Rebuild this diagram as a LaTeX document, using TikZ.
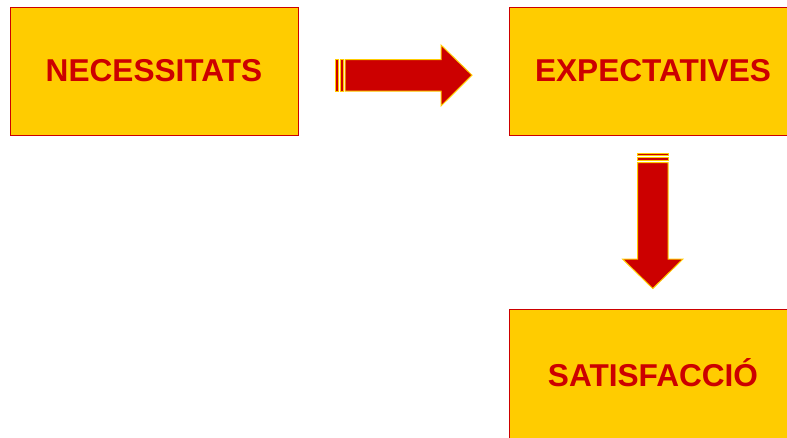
\documentclass[tikz,border=0pt]{standalone}
\usepackage{fontspec}
\setmainfont{Liberation Sans}
\definecolor{boxfill}{HTML}{FFCC00}
\definecolor{boxred}{HTML}{CC0000}
\begin{document}
\begin{tikzpicture}[x=1pt,y=-1pt,
  stepbox/.style={draw=boxred, line width=0.8pt, fill=boxfill, minimum width=288pt, minimum height=128pt,
    inner sep=0pt, outer sep=0pt, text=boxred, font=\fontsize{31.6}{32}\selectfont\bfseries},
  blockarrow/.style={fill=boxred, draw=boxfill, line width=1pt, line join=miter}]
\useasboundingbox (0,0) rectangle (787,437);
\node[stepbox] (nec) at (154,71) {NECESSITATS};
\node[stepbox] (exp) at (653,71) {EXPECTATIVES};
\node[stepbox, minimum height=132pt] (sat) at (653,375) {\raisebox{5pt}{SATISFACCIÓ}};
% right block arrow
\draw[blockarrow] (335.5,59.5) rectangle (338.5,91);
\draw[blockarrow] (340,59.5) rectangle (343,91);
\draw[blockarrow] (345,59.5) -- (441,59.5) -- (441,45) -- (472,75.2) -- (441,106) -- (441,91) -- (345,91) -- cycle;
% down block arrow
\draw[blockarrow] (637.5,153) rectangle (668,155.5);
\draw[blockarrow] (637.5,157.5) rectangle (668,160.5);
\draw[blockarrow] (637.5,162.5) -- (637.5,259) -- (622.5,259) -- (652.8,288.5) -- (683,259) -- (668,259) -- (668,162.5) -- cycle;
\end{tikzpicture}
\end{document}
